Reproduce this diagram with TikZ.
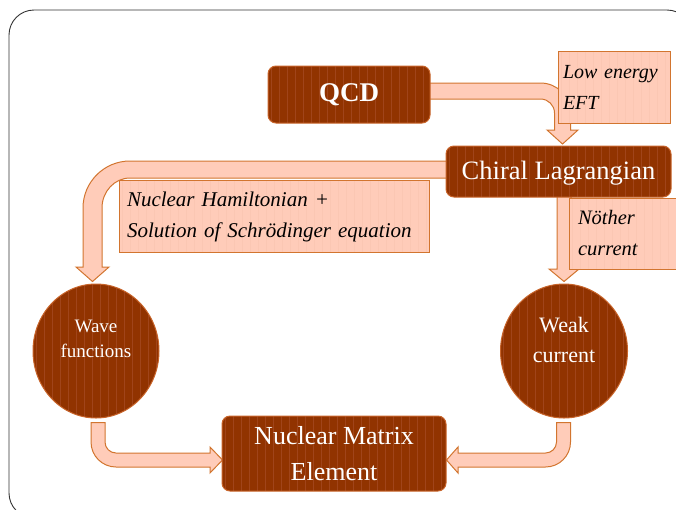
\documentclass[tikz,border=0pt]{standalone}
\usepackage{fontspec}
\setmainfont{Liberation Serif}
\usetikzlibrary{shapes.geometric,calc,backgrounds}
\definecolor{dbrown}{HTML}{913300}
\definecolor{dstripe}{HTML}{A0441A}
\definecolor{lfill}{HTML}{FFCCB9}
\definecolor{lstripe}{HTML}{FBC7B3}
\definecolor{obord}{HTML}{D2752F}
\definecolor{dbord}{HTML}{C8642A}
\definecolor{framec}{HTML}{333333}
\tikzset{
  stripes/.style={path picture={\foreach \i in {3,11,...,330}{\draw[#1,line width=0.9pt]([xshift=\i pt]path picture bounding box.north west) -- ([xshift=\i pt]path picture bounding box.south west);}}},
  darkbox/.style={rectangle, rounded corners=8pt, fill=dbrown, draw=dbord, line width=1pt, stripes=dstripe, text=white, inner sep=0pt, align=center},
  darkellipse/.style={ellipse, fill=dbrown, draw=dbord, line width=1pt, stripes=dstripe, text=white, inner sep=0pt, align=center},
  lightbox/.style={rectangle, fill=lfill, draw=obord, line width=1pt, stripes=lstripe, text=black, inner sep=0pt, align=left, font=\itshape\fontsize{20.5}{31}\selectfont},
  barrow/.style={fill=lfill, draw=obord, line width=1pt, line join=miter},
}
\begin{document}
\begin{tikzpicture}[x=1pt,y=-1pt]
\useasboundingbox (0,0) rectangle (676,509);
\clip (0,0) rectangle (676,509);

% nodes
\node[darkbox, minimum width=162pt, minimum height=57pt, font=\bfseries\fontsize{27}{30}\selectfont] (qcd) at (349,94.5) {QCD};
\node[lightbox, minimum width=112pt, minimum height=72pt, text width=102pt, font=\itshape\fontsize{20}{31}\selectfont] (eft) at (614,87) {\hyphenpenalty=10000 Low energy\\EFT};
\node[darkbox, minimum width=225pt, minimum height=51pt, text height=22pt, font=\fontsize{26.5}{30}\selectfont] (chiral) at (558.5,171.5) {Chiral Lagrangian};
\node[lightbox, minimum width=310pt, minimum height=72pt, text width=294pt, text depth=32.6pt, font=\itshape\fontsize{21}{31}\selectfont] (ham) at (274,216) {Nuclear Hamiltonian +\\Solution of Schrödinger equation};
\node[lightbox, minimum width=131pt, minimum height=71pt, text width=113pt] (noether) at (634.5,233.5) {Nöther\\current};
\node[darkellipse, minimum width=126pt, minimum height=134pt, text depth=23.5pt, font=\fontsize{19}{25}\selectfont] (wave) at (96,351) {Wave\\functions};
\node[darkellipse, minimum width=127pt, minimum height=134pt, text depth=22.6pt, font=\fontsize{22}{30}\selectfont] (weak) at (564,351) {Weak\\current};
\node[darkbox, minimum width=224pt, minimum height=75pt, font=\fontsize{26}{36}\selectfont] (nme) at (334,453.5) {Nuclear Matrix\\Element};

\begin{pgfonlayer}{background}
% outer frame
\draw[framec, line width=0.9pt, rounded corners=25pt] (9,10) rectangle (692,518);

% QCD -> Chiral Lagrangian
\draw[barrow] ($(qcd.east)+(-5,-11.5)$) -- (540.5,83)
  .. controls (557.07,83) and (570.5,96.43) .. (570.5,113)
  -- (570.5,130) -- (578,130) -- ($(chiral.north)+(4,-1.5)$) -- (547,130) -- (554.5,130)
  -- (554.5,113) .. controls (554.5,105.27) and (548.23,99) .. (540.5,99)
  -- ($(qcd.east)+(-5,4.5)$) -- cycle;

% Chiral Lagrangian -> Wave functions
\draw[barrow] ($(chiral.west)+(5,-10.5)$) -- (130,161)
  .. controls (104.04,161) and (83,182.04) .. (83,208)
  -- (83,267) -- (76,267) -- ($(wave.north)+(-3.5,-2)$) -- (109,267) -- (102,267)
  -- (102,208) .. controls (102,191.43) and (114.54,178) .. (130,178)
  -- ($(chiral.west)+(5,6.5)$) -- cycle;

% Chiral Lagrangian -> Weak current
\draw[barrow] ($(chiral.south)+(-1.5,-7)$) -- (557,269) -- (549,269) -- ($(weak.north)+(0,-2)$)
  -- (579,269) -- (571,269) -- ($(chiral.south)+(12.5,-7)$) -- cycle;

% Wave functions -> Nuclear Matrix Element
\draw[barrow] ($(wave.south)+(-5,4)$) -- (91,442)
  .. controls (91,455.81) and (102.19,467) .. (116,467)
  -- (210,467) -- (210,473) -- ($(nme.west)+(1,6.5)$) -- (210,447) -- (210,453)
  -- (116,453) .. controls (109.92,453) and (105,448.08) .. (105,442)
  -- ($(wave.south)+(9,4)$) -- cycle;

% Weak current -> Nuclear Matrix Element
\draw[barrow] ($(weak.south)+(6.5,4)$) -- (570.5,442)
  .. controls (570.5,455.81) and (559.31,467) .. (545.5,467)
  -- (458,467) -- (458,473) -- ($(nme.east)+(0,6.5)$) -- (458,447) -- (458,453)
  -- (545.5,453) .. controls (551.58,453) and (556.5,448.08) .. (556.5,442)
  -- ($(weak.south)+(-7.5,4)$) -- cycle;
\end{pgfonlayer}
\end{tikzpicture}
\end{document}
